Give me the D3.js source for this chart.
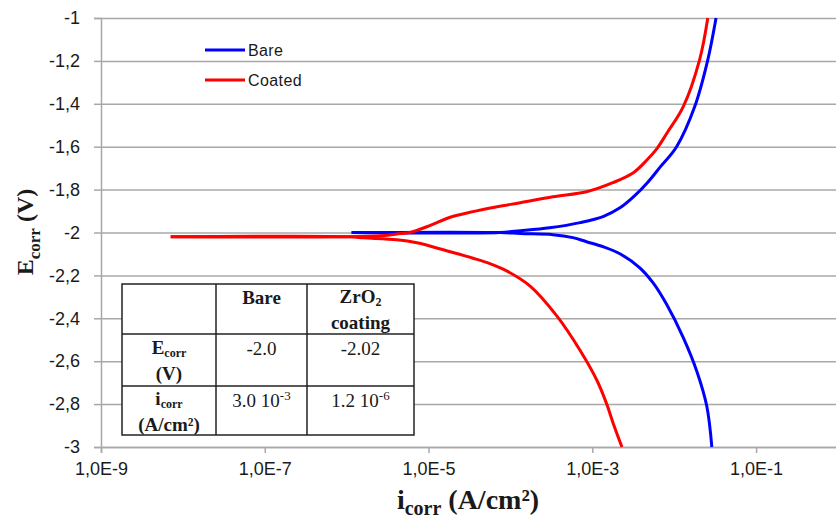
<!DOCTYPE html>
<html>
<head>
<meta charset="utf-8">
<script src="https://cdn.jsdelivr.net/npm/d3@7"></script>
<style>
  body { margin: 0; background: #fff; }
  svg { display: block; }
</style>
</head>
<body>
<div id="chart"></div>
<script>
// current density (A/cm2) vs potential (V)
var bareCathodic = [
  [2.88e-2, -3.0], [2.5e-2, -2.81], [1.9e-2, -2.65], [1.29e-2, -2.49], [8.1e-3, -2.336],
  [5.5e-3, -2.234], [3.8e-3, -2.165], [2.2e-3, -2.1], [1.35e-3, -2.066], [8.5e-4, -2.043],
  [5.8e-4, -2.024], [3.3e-4, -2.01], [1.32e-4, -2.005], [7.4e-5, -2.0], [1.15e-6, -2.0]
];
var bareAnodic = [
  [1.15e-6, -2.0], [7.4e-5, -2.0], [1.32e-4, -1.992], [3.0e-4, -1.978], [7.1e-4, -1.954],
  [1.35e-3, -1.926], [2.2e-3, -1.884], [3.2e-3, -1.833], [4.7e-3, -1.768], [6.8e-3, -1.693],
  [1.07e-2, -1.6], [1.78e-2, -1.413], [2.57e-2, -1.195], [3.24e-2, -1.0]
];
var coatedCathodic = [
  [2.3e-3, -3.0], [1.8e-3, -2.89], [1.5e-3, -2.80], [1.14e-3, -2.69], [7.1e-4, -2.55],
  [3.7e-4, -2.39], [1.74e-4, -2.25], [9.1e-5, -2.18], [5.6e-5, -2.145], [3.5e-5, -2.12],
  [1.66e-5, -2.085], [7.2e-6, -2.048], [4.1e-6, -2.034], [1.6e-6, -2.025], [1.1e-6, -2.02],
  [7.1e-9, -2.02]
];
var coatedAnodic = [
  [7.1e-9, -2.02], [2.6e-6, -2.015], [4.5e-6, -2.005], [5.9e-6, -2.0], [1.05e-5, -1.967],
  [1.8e-5, -1.93], [3.2e-5, -1.906], [6.9e-5, -1.88], [1.32e-4, -1.861], [3.3e-4, -1.833],
  [8.5e-4, -1.81], [1.78e-3, -1.768], [3.2e-3, -1.72], [4.7e-3, -1.66], [6.15e-3, -1.609],
  [8.2e-3, -1.535], [1.29e-2, -1.413], [2.04e-2, -1.195], [2.57e-2, -1.0]
];

var seriesNames = ["Bare", "Coated"];
var seriesColors = ["#0000ff", "#ff0000"];

var xTickValues = [1e-9, 1e-7, 1e-5, 1e-3, 1e-1];
var xTickLabels = ["1,0E-9", "1,0E-7", "1,0E-5", "1,0E-3", "1,0E-1"];
var yTickValues = [-1, -1.2, -1.4, -1.6, -1.8, -2, -2.2, -2.4, -2.6, -2.8, -3];
var yTickLabels = ["-1", "-1,2", "-1,4", "-1,6", "-1,8", "-2", "-2,2", "-2,4", "-2,6", "-2,8", "-3"];

// inset table
var tableHeaders = ["Bare", "ZrO2 coating"];
var ecorrValues = ["-2.0", "-2.02"];
var icorrMantissa = ["3.0 10", "1.2 10"];
var icorrExponent = ["-3", "-6"];

var margin = { top: 18, right: -2, bottom: 73, left: 101 };
var width = 836 - margin.left - margin.right;
var height = 520 - margin.top - margin.bottom;

var svg = d3.select("#chart").append("svg")
  .attr("width", 836)
  .attr("height", 520);
var g = svg.append("g")
  .attr("transform", "translate(" + margin.left + "," + margin.top + ")");

var x = d3.scaleLog().domain([1e-9, 1]).range([0, width]);
var y = d3.scaleLinear().domain([-3, -1]).range([height, 0]);

// horizontal grid
g.append("g")
  .attr("class", "grid")
  .call(d3.axisLeft(y).tickValues(yTickValues).tickSize(-width).tickFormat(""))
  .call(function (s) {
    s.select(".domain").remove();
    s.selectAll("line").attr("stroke", "#a8a8a8").attr("stroke-width", 1.5);
  });

// y axis
g.append("g")
  .call(d3.axisLeft(y).tickValues(yTickValues).tickSize(7).tickPadding(14)
    .tickFormat(function (d, i) { return yTickLabels[i]; }))
  .call(function (s) {
    s.select(".domain").attr("stroke", "#a8a8a8").attr("stroke-width", 1.5);
    s.selectAll("line").attr("stroke", "#a8a8a8").attr("stroke-width", 1.5);
    s.selectAll("text").attr("font-family", "Liberation Sans, Arial, sans-serif")
      .attr("font-size", 18).attr("fill", "#1a1a1a");
  });

// x axis
g.append("g")
  .attr("transform", "translate(0," + height + ")")
  .call(d3.axisBottom(x).tickValues(xTickValues).tickSize(6).tickPadding(9)
    .tickFormat(function (d, i) { return xTickLabels[i]; }))
  .call(function (s) {
    s.select(".domain").attr("stroke", "#a8a8a8").attr("stroke-width", 1.5);
    s.selectAll("line").attr("stroke", "#a8a8a8").attr("stroke-width", 1.5);
    s.selectAll("text").attr("font-family", "Liberation Sans, Arial, sans-serif")
      .attr("font-size", 18).attr("fill", "#1a1a1a");
  });

// curves
var line = d3.line()
  .curve(d3.curveCatmullRom.alpha(0.5))
  .x(function (d) { return x(d[0]); })
  .y(function (d) { return y(d[1]); });

var curves = [
  { data: bareCathodic, s: 0 }, { data: bareAnodic, s: 0 },
  { data: coatedCathodic, s: 1 }, { data: coatedAnodic, s: 1 }
];
g.selectAll(".curve")
  .data(curves)
  .enter().append("path")
  .attr("class", "curve")
  .attr("fill", "none")
  .attr("stroke", function (d) { return seriesColors[d.s]; })
  .attr("stroke-width", 3)
  .attr("stroke-linejoin", "round")
  .attr("d", function (d) { return line(d.data); });

// legend
var legend = svg.append("g").attr("transform", "translate(205,50)");
seriesNames.forEach(function (name, i) {
  var row = legend.append("g").attr("transform", "translate(0," + (i * 30) + ")");
  row.append("line").attr("x1", 0).attr("x2", 40).attr("y1", 0).attr("y2", 0)
    .attr("stroke", seriesColors[i]).attr("stroke-width", 3);
  row.append("text").attr("x", 43).attr("y", 5.5)
    .attr("font-family", "Liberation Sans, Arial, sans-serif")
    .attr("font-size", 16).attr("letter-spacing", 0.4).attr("fill", "#1a1a1a")
    .text(name);
});

// axis titles
var serif = "Liberation Serif, Times New Roman, serif";
var yTitle = svg.append("text")
  .attr("transform", "translate(33,232) rotate(-90)")
  .attr("text-anchor", "middle")
  .attr("font-family", serif).attr("font-weight", "bold")
  .attr("font-size", 24).attr("fill", "#1a1a1a");
yTitle.append("tspan").text("E");
yTitle.append("tspan").attr("font-size", 17).attr("dy", 7).text("corr");
yTitle.append("tspan").attr("dy", -7).text(" (V)");

var xTitle = svg.append("text")
  .attr("x", 468).attr("y", 509)
  .attr("text-anchor", "middle")
  .attr("font-family", serif).attr("font-weight", "bold")
  .attr("font-size", 28).attr("fill", "#1a1a1a");
xTitle.append("tspan").text("i");
xTitle.append("tspan").attr("font-size", 20).attr("dy", 6).text("corr");
xTitle.append("tspan").attr("dy", -6).text(" (A/cm\u00b2)");

// inset table
var colX = [122, 216, 307, 414];
var rowY = [284, 334, 386, 435];
var tbl = svg.append("g").attr("font-family", serif).attr("fill", "#1a1a1a");
tbl.append("rect")
  .attr("x", colX[0]).attr("y", rowY[0])
  .attr("width", colX[3] - colX[0]).attr("height", rowY[3] - rowY[0])
  .attr("fill", "#fff").attr("stroke", "#222").attr("stroke-width", 1.5);
[1, 2].forEach(function (k) {
  tbl.append("line").attr("x1", colX[k]).attr("x2", colX[k])
    .attr("y1", rowY[0]).attr("y2", rowY[3]).attr("stroke", "#222").attr("stroke-width", 1.5);
  tbl.append("line").attr("x1", colX[0]).attr("x2", colX[3])
    .attr("y1", rowY[k]).attr("y2", rowY[k]).attr("stroke", "#222").attr("stroke-width", 1.5);
});
function cx(k) { return (colX[k] + colX[k + 1]) / 2; }
function cell(xp, yp, bold) {
  return tbl.append("text").attr("x", xp).attr("y", yp)
    .attr("text-anchor", "middle").attr("font-size", 19)
    .attr("font-weight", bold ? "bold" : "normal");
}
// header row
cell(cx(1), 304, true).text(tableHeaders[0]);
var zr = cell(cx(2), 303, true);
zr.append("tspan").text("ZrO");
zr.append("tspan").attr("font-size", 12).attr("dy", 3).text("2");
cell(cx(2), 329, true).text("coating");
// Ecorr row
var ec = cell(cx(0), 354, true);
ec.append("tspan").text("E");
ec.append("tspan").attr("font-size", 12).attr("dy", 3).text("corr");
cell(cx(0), 380, true).text("(V)");
ecorrValues.forEach(function (v, i) { cell(cx(i + 1), 355, false).text(v); });
// icorr row
var ic = cell(cx(0), 405, true);
ic.append("tspan").text("i");
ic.append("tspan").attr("font-size", 12).attr("dy", 3).text("corr");
cell(cx(0), 431, true).text("(A/cm\u00b2)");
icorrMantissa.forEach(function (v, i) {
  var t = cell(cx(i + 1), 407, false);
  t.append("tspan").text(v);
  t.append("tspan").attr("font-size", 13).attr("dy", -7).text(icorrExponent[i]);
});
</script>
</body>
</html>
